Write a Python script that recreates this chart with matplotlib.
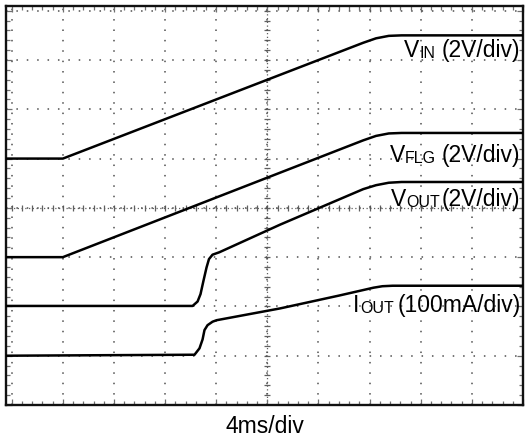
import numpy as np
import matplotlib
matplotlib.use('Agg')
import matplotlib.pyplot as plt
from matplotlib.transforms import offset_copy

plt.rcParams['font.family'] = ['Liberation Sans', 'DejaVu Sans']

# time axis in ms (4 ms/div), vertical axis in divisions (0 = bottom grid line)
t_vin = [-0.5, 4.0, 27.5, 28.5, 29.5, 30.5, 40.0]
v_vin = [5.0, 5.0, 7.35, 7.44, 7.49, 7.5, 7.5]

t_vflg = [-0.5, 4.0, 27.5, 28.5, 29.5, 30.5, 40.0]
v_vflg = [3.0, 3.0, 5.37, 5.46, 5.51, 5.52, 5.52]

t_vout = [-0.5, 14.15, 14.54, 14.77, 15.0, 15.24, 15.43, 15.71, 16.25, 21.0, 27.5, 28.5, 29.5, 30.5, 40.0]
v_vout = [2.01, 2.01, 2.10, 2.25, 2.52, 2.79, 2.96, 3.05, 3.10, 3.66, 4.38, 4.46, 4.51, 4.525, 4.525]

t_iout = [-0.5, 14.30, 14.69, 14.93, 15.08, 15.32, 15.71, 16.02, 21.0, 25.6, 28.3, 29.0, 29.8, 40.0]
v_iout = [1.0, 1.02, 1.15, 1.33, 1.52, 1.62, 1.69, 1.72, 1.96, 2.22, 2.38, 2.41, 2.42, 2.42]

labels = [
    # (main, subscript, tail, x, y, gap_px)
    ("V", "IN", "(2V/div)", 39.75, 7.06, 6),
    ("V", "FLG", "(2V/div)", 39.75, 4.94, 5),
    ("V", "OUT", "(2V/div)", 39.75, 4.04, 1),
    ("I", "OUT", "(100mA/div)", 39.85, 1.885, 4),
]
xlabel_text = "4ms/div"

W, H = 525, 441
fig = plt.figure(figsize=(W / 100, H / 100), dpi=100)
ax = fig.add_axes([6 / W, (H - 405) / H, (523 - 6) / W, (405 - 6) / H])
ax.set_xlim(-0.449, 39.90)
ax.set_ylim(0.423, 8.096)

ax.set_xticks(np.arange(0, 40.01, 4))
ax.set_yticks(np.arange(0, 8.01, 1))
ax.set_xticks(np.arange(0, 40.01, 0.8), minor=True)
ax.set_yticks(np.arange(0, 8.01, 0.2), minor=True)
ax.tick_params(which='both', direction='in', top=True, right=True,
               labelbottom=False, labelleft=False, color='#707070', width=0.9)
ax.tick_params(which='major', length=4)
ax.tick_params(which='minor', length=3)
ax.grid(True, which='major', color='#505050', lw=1.1, ls=(0, (1, 5.8)))
for s in ax.spines.values():
    s.set_linewidth(1.7)
    s.set_color('#111111')

# center graticule lines with small tick marks
ax.axhline(4, color='#606060', lw=0.9, ls=(0, (1, 2)), zorder=1)
ax.axvline(20, color='#606060', lw=0.9, ls=(0, (1, 2)), zorder=1)
xm = np.arange(0, 40.01, 0.8)
ym = np.arange(0, 8.01, 0.2)
ax.plot(xm, np.full_like(xm, 4), ls='none', marker='|', ms=4, mew=0.9, color='#606060', zorder=1)
ax.plot(np.full_like(ym, 20), ym, ls='none', marker='_', ms=4, mew=0.9, color='#606060', zorder=1)

for tt, vv in [(t_vin, v_vin), (t_vflg, v_vflg), (t_vout, v_vout), (t_iout, v_iout)]:
    ax.plot(tt, vv, color='black', lw=1.8, solid_joinstyle='round', zorder=3)

fig.canvas.draw()
renderer = fig.canvas.get_renderer()

for main, sub, tail, x, y, gap in labels:
    acc = 0.0
    tr = offset_copy(ax.transData, fig=fig, x=-acc, y=0, units='dots')
    t1 = ax.text(x, y, tail, ha='right', va='baseline', fontsize=16.5, transform=tr, zorder=4)
    acc += t1.get_window_extent(renderer).width + gap
    tr = offset_copy(ax.transData, fig=fig, x=-acc, y=-1, units='dots')
    t2 = ax.text(x, y, sub, ha='right', va='baseline', fontsize=11.5, transform=tr, zorder=4)
    acc += t2.get_window_extent(renderer).width + 0.5
    tr = offset_copy(ax.transData, fig=fig, x=-acc, y=0, units='dots')
    ax.text(x, y, main, ha='right', va='baseline', fontsize=16.5, transform=tr, zorder=4)

fig.text(265 / W, (H - 433) / H, xlabel_text, ha='center', va='baseline', fontsize=16.5)

fig.savefig('out.png', dpi=100)
